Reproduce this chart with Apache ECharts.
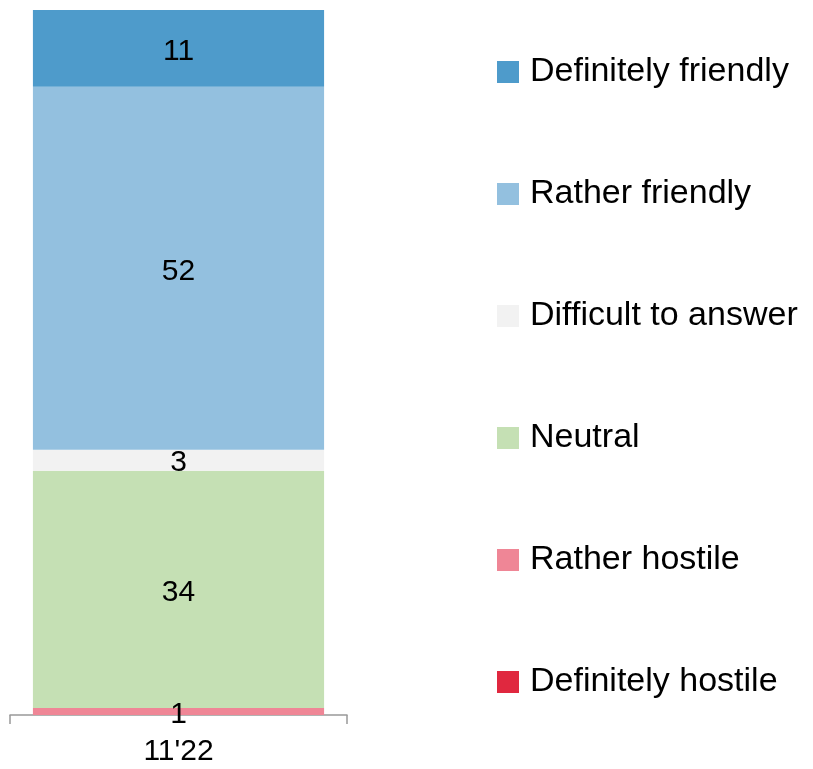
<!DOCTYPE html>
<html>
<head>
<meta charset="utf-8">
<style>
  html, body { margin: 0; padding: 0; background: #fff; }
  #chart { width: 813px; height: 769px; }
</style>
<script src="https://cdn.jsdelivr.net/npm/echarts@6/dist/echarts.min.js"></script>
</head>
<body>
<div id="chart"></div>
<script>
// Survey wave
const categories = ["11'22"];

// Answer groups, bottom of the stack first
const seriesNames = [
  'Definitely hostile',
  'Rather hostile',
  'Neutral',
  'Difficult to answer',
  'Rather friendly',
  'Definitely friendly'
];
const definitelyHostile = [0];
const ratherHostile = [1];
const neutral = [34];
const difficultToAnswer = [3];
const ratherFriendly = [52];
const definitelyFriendly = [11];

const seriesValues = [definitelyHostile, ratherHostile, neutral, difficultToAnswer, ratherFriendly, definitelyFriendly];
const seriesColors = ['#E0283F', '#EF8696', '#C5E0B4', '#F2F2F2', '#93C0DF', '#4E9BCB'];

const fontFamily = "'Liberation Sans Narrow', 'Arial Narrow', 'Liberation Sans', Arial, sans-serif";

const chart = echarts.init(document.getElementById('chart'), null, { renderer: 'canvas' });

const series = seriesNames.map((name, i) => ({
  name,
  type: 'bar',
  stack: 'total',
  barWidth: '86.4%',
  data: seriesValues[i],
  itemStyle: { color: seriesColors[i] },
  label: {
    show: true,
    position: 'inside',
    color: '#000',
    fontFamily,
    fontSize: 30,
    offset: [0, 3],
    formatter: p => (p.value > 0 ? String(p.value) : '')
  },
  emphasis: { disabled: true }
}));

chart.setOption({
  animation: false,
  backgroundColor: '#fff',
  grid: { left: 10, right: 466, top: 10, bottom: 54, containLabel: false },
  legend: {
    orient: 'vertical',
    left: 497,
    top: 50,
    padding: 0,
    itemWidth: 22,
    itemHeight: 22,
    itemGap: 78,
    icon: 'rect',
    data: seriesNames.slice().reverse(),
    textStyle: {
      fontFamily,
      fontSize: 34,
      lineHeight: 44,
      color: '#000',
      padding: [0, 0, 0, 6]
    },
    selectedMode: false
  },
  xAxis: {
    type: 'category',
    data: categories,
    axisLine: { lineStyle: { color: '#999', width: 1.5 } },
    axisTick: { show: true, length: 9, lineStyle: { color: '#999', width: 1.5 } },
    axisLabel: { color: '#000', fontFamily, fontSize: 30, margin: 22 }
  },
  yAxis: {
    type: 'value',
    min: 0,
    max: 101,
    show: false,
    splitLine: { show: false }
  },
  series
});
</script>
</body>
</html>
